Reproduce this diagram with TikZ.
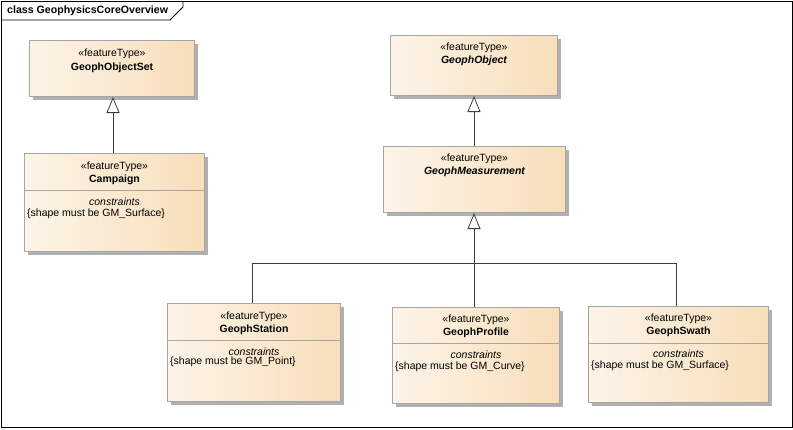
\documentclass[tikz,border=0pt]{standalone}
\usepackage{fontspec}
\setmainfont{Liberation Sans}
\usetikzlibrary{arrows.meta,shadows,calc}
\definecolor{boxL}{HTML}{FCF4E8}
\definecolor{boxR}{HTML}{F8DEBA}
\definecolor{boxLine}{HTML}{A6A6A6}
\definecolor{shadowC}{HTML}{B0B0B0}
\definecolor{connC}{HTML}{3C3C3C}
\tikzset{
  cls/.style={draw=boxLine, line width=1pt, left color=boxL, right color=boxR,
    anchor=north west, inner sep=0pt,
    drop shadow={shadow xshift=3pt, shadow yshift=-3pt, fill=shadowC, opacity=1}},
  stereo/.style={font=\fontsize{10.5}{12}\selectfont, inner sep=0pt},
  cname/.style={font=\fontsize{10.5}{12}\selectfont\bfseries, inner sep=0pt},
  cnameit/.style={font=\fontsize{10.5}{12}\selectfont\bfseries\itshape, inner sep=0pt},
  cons/.style={font=\fontsize{10.5}{12}\selectfont\itshape, inner sep=0pt},
  constext/.style={font=\fontsize{10.5}{12}\selectfont, inner sep=0pt, anchor=west},
  divider/.style={draw=boxLine, line width=1pt},
  conn/.style={draw=connC, line width=0.8pt},
  gen/.style={conn, -{Triangle[open, length=16pt, width=13pt, fill=white]}},
  frame/.style={draw=black, line width=0.8pt}
}
\begin{document}
\begin{tikzpicture}[x=1pt,y=-1pt]
\fill[white] (0,0) rectangle (793,429);
\useasboundingbox (0,0) rectangle (793,429);
% frame
\draw[frame] (1,1) rectangle (792,427);
\draw[frame] (1,20) -- (170,20) -- (183,7) -- (183,1);
\node[anchor=west, inner sep=0pt, font=\fontsize{10.6}{12}\selectfont\bfseries] (title) at (7,10.5) {class GeophysicsCoreOverview};

% GeophObjectSet
\node[cls, minimum width=165pt, minimum height=56pt] (gos) at (29,40) {};
\node[stereo] (gosS) at ($(gos.north)+(0,13.5)$) {«featureType»};
\node[cname] (gosN) at ($(gos.north)+(0,27.5)$) {GeophObjectSet};

% Campaign
\node[cls, minimum width=180pt, minimum height=98pt] (camp) at (24,153) {};
\node[stereo] (campS) at ($(camp.north)+(0,13.5)$) {«featureType»};
\node[cname] (campN) at ($(camp.north)+(0,26.5)$) {Campaign};
\draw[divider] (24,190) -- (204,190);
\node[cons] (campC) at ($(camp.north)+(0,48.5)$) {constraints};
\node[constext] (campT) at (27,214) {\{shape must be GM\_Surface\}};

% GeophObject
\node[cls, minimum width=167pt, minimum height=60pt] (gobj) at (390,35) {};
\node[stereo] (gobjS) at ($(gobj.north)+(0,12.5)$) {«featureType»};
\node[cnameit] (gobjN) at ($(gobj.north)+(0,25.5)$) {GeophObject};

% GeophMeasurement
\node[cls, minimum width=182pt, minimum height=66pt] (meas) at (383,146) {};
\node[stereo] (measS) at ($(meas.north)+(0,12.5)$) {«featureType»};
\node[cnameit] (measN) at ($(meas.north)+(0,25.5)$) {GeophMeasurement};

% GeophStation
\node[cls, minimum width=173pt, minimum height=98pt] (stat) at (167,303) {};
\node[stereo] (statS) at ($(stat.north)+(0,13.5)$) {«featureType»};
\node[cname] (statN) at ($(stat.north)+(0,26.5)$) {GeophStation};
\draw[divider] (167,340) -- (340,340);
\node[cons] (statC) at ($(stat.north)+(0,48.5)$) {constraints};
\node[constext] (statT) at (170,362) {\{shape must be GM\_Point\}};

% GeophProfile
\node[cls, minimum width=167pt, minimum height=96pt] (prof) at (392,307) {};
\node[stereo] (profS) at ($(prof.north)+(0,12.5)$) {«featureType»};
\node[cname] (profN) at ($(prof.north)+(0,25.5)$) {GeophProfile};
\draw[divider] (392,343) -- (559,343);
\node[cons] (profC) at ($(prof.north)+(0,47.5)$) {constraints};
\node[constext] (profT) at (395,367) {\{shape must be GM\_Curve\}};

% GeophSwath
\node[cls, minimum width=180pt, minimum height=96pt] (swath) at (588,306) {};
\node[stereo] (swathS) at ($(swath.north)+(0,12.5)$) {«featureType»};
\node[cname] (swathN) at ($(swath.north)+(0,25.5)$) {GeophSwath};
\draw[divider] (588,343) -- (768,343);
\node[cons] (swathC) at ($(swath.north)+(0,47.5)$) {constraints};
\node[constext] (swathT) at (591,366) {\{shape must be GM\_Surface\}};

% connectors
\draw[gen] (camp.north -| 113,0) -- (gos.south -| 113,0);
\draw[gen] (meas.north -| 474,0) -- (gobj.south -| 474,0);
\coordinate (junc) at (474,263);
\draw[conn] (stat.north -| 252,0) |- (junc);
\draw[conn] (swath.north -| 676,0) |- (junc);
\draw[gen] (prof.north -| 474,0) -- (meas.south -| 474,0);
\end{tikzpicture}
\end{document}
